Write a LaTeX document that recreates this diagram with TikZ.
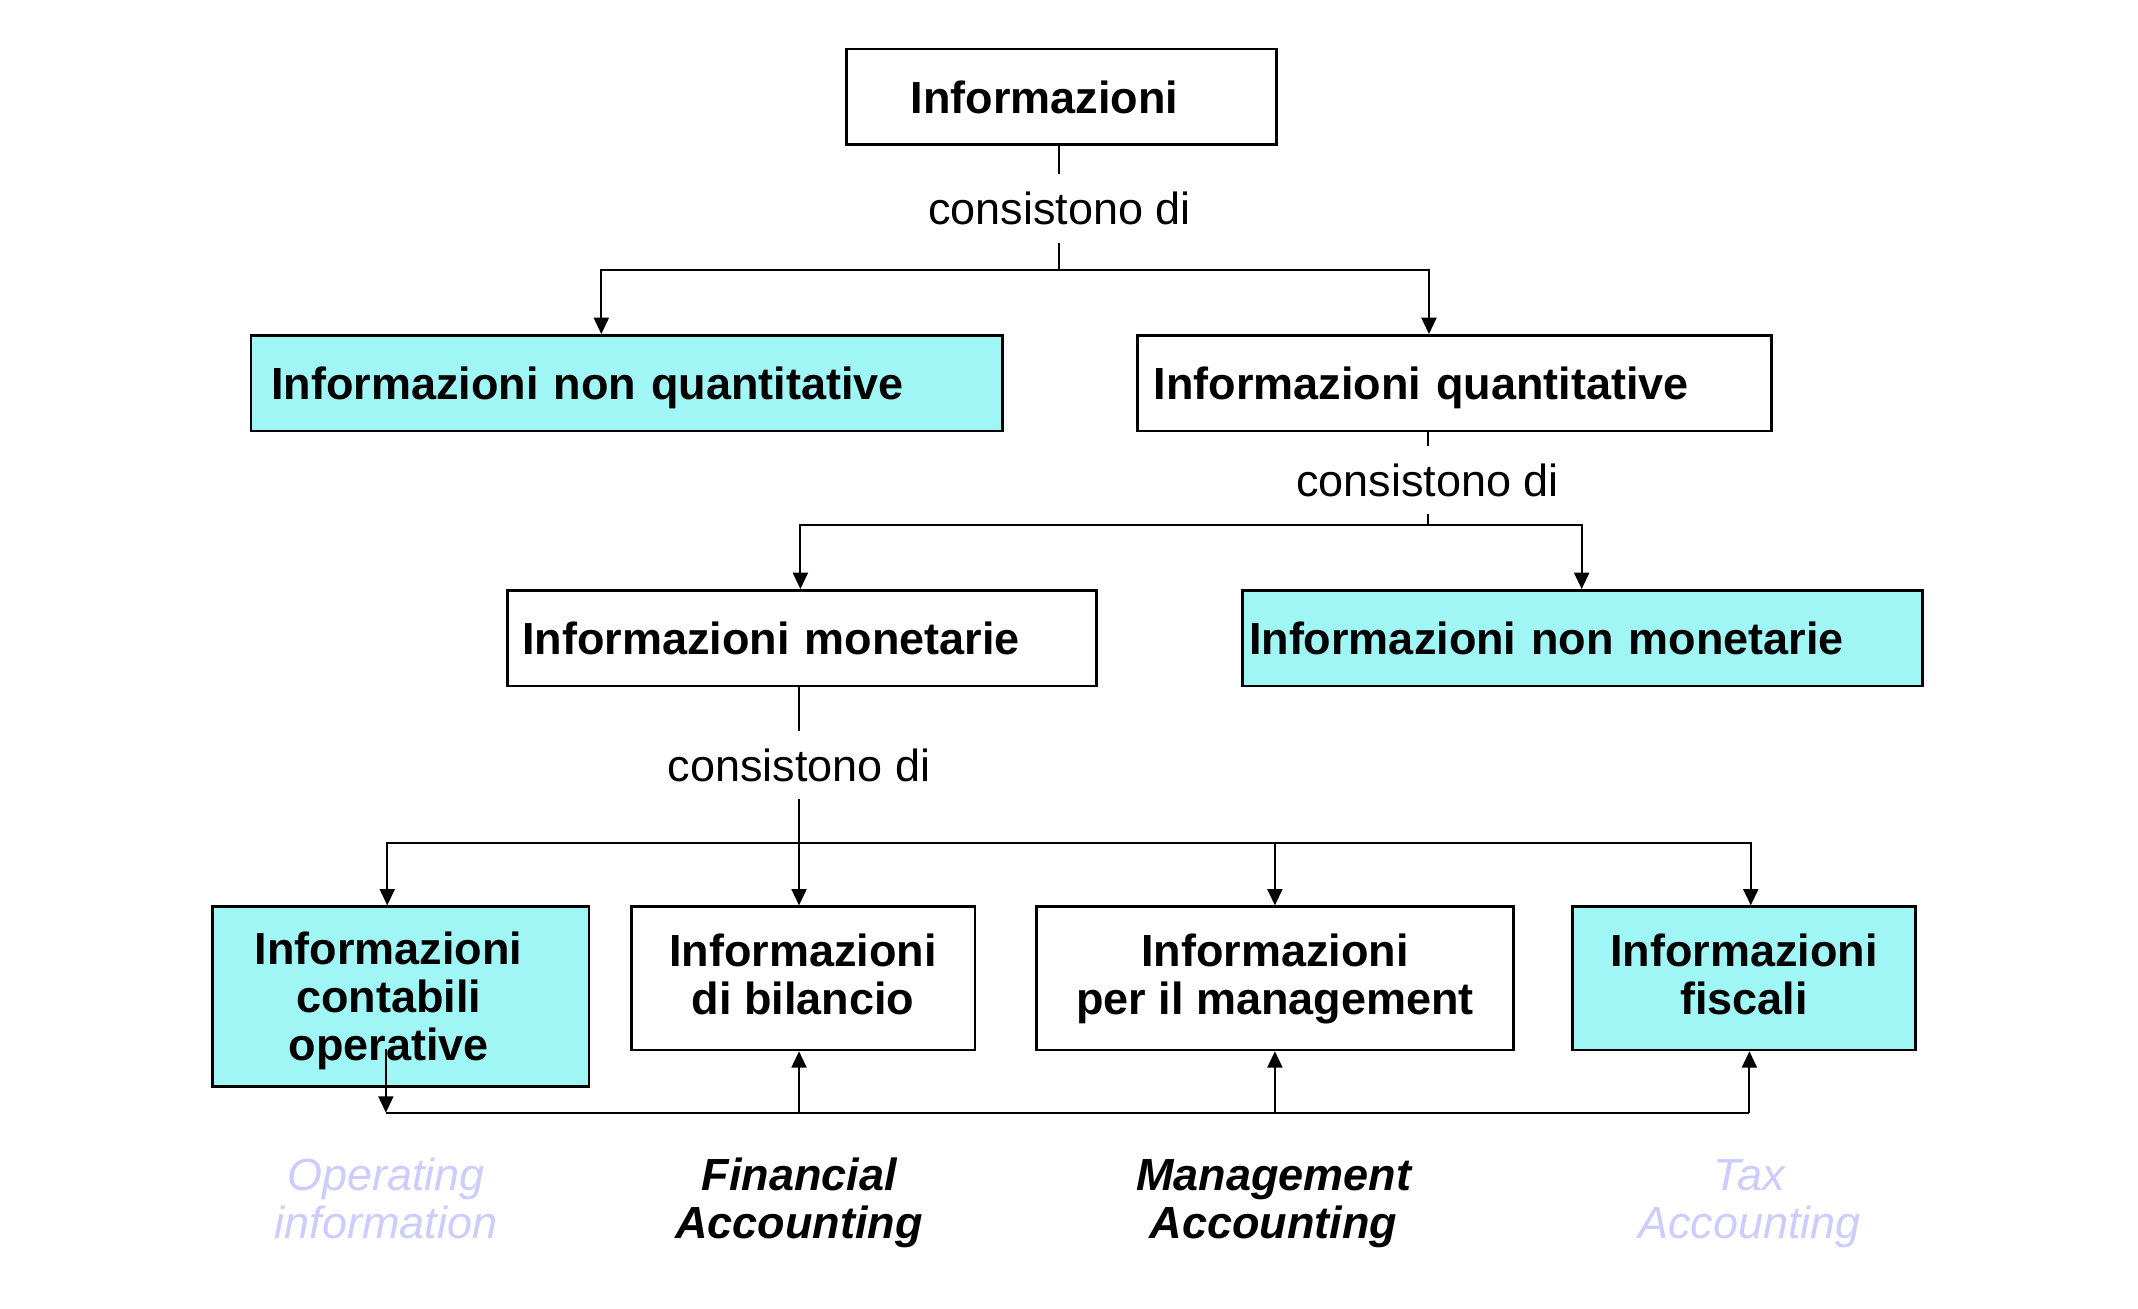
\documentclass[tikz,border=0pt]{standalone}
\usepackage{fontspec}
\setmainfont{Liberation Sans}
\usetikzlibrary{arrows.meta}
\definecolor{boxcyan}{RGB}{160,245,245}
\definecolor{lav}{RGB}{204,204,255}
\begin{document}
\begin{tikzpicture}[x=1pt,y=-1pt,
  basefont/.style={font=\fontsize{33}{35}\selectfont},
  box/.style={draw=black, line width=2pt, inner ysep=0pt, minimum height=70pt,
    anchor=north west, font=\fontsize{33}{35.5}\selectfont\bfseries,
    text height=24pt, text depth=0pt},
  cyanbox/.style={box, fill=boxcyan},
  link/.style={line width=1.5pt},
  arr/.style={link, -{Triangle[length=12pt,width=11pt]}},
  conn/.style={basefont, inner xsep=0pt, inner ysep=13pt, text height=24pt, text depth=0pt},
  lab/.style={align=center, inner sep=0pt, text height=59pt, text depth=0pt},
  strong/.style={lab, font=\fontsize{33}{35}\selectfont\bfseries\itshape, text=black},
  faint/.style={lab, font=\fontsize{33}{35}\selectfont\itshape, text=lav}]
\useasboundingbox (0,0) rectangle (1568,959.4);

% level 0
\node[box, minimum width=315pt, text width=221pt, inner xsep=47pt, align=left] (A) at (620,35) {Informazioni};
\node[conn] (c1) at (777,153) {consistono di};
\coordinate (j1) at (777,198);

% level 1
\node[cyanbox, minimum width=551pt, text width=521pt, inner xsep=15pt, align=left] (B) at (183,245) {Informazioni non quantitative};
\node[box, minimum width=465pt, text width=441pt, inner xsep=12pt, align=left] (C) at (833,245) {Informazioni quantitative};
\node[conn] (c2) at (1047,352) {consistono di};
\coordinate (j2) at (1047,385);

% level 2
\node[box, minimum width=432pt, text width=410pt, inner xsep=11pt, align=left] (D) at (371,432) {Informazioni monetarie};
\node[cyanbox, minimum width=499pt, text width=489pt, inner xsep=5pt, align=left] (E) at (910,432) {Informazioni non monetarie};
\node[conn] (c3) at (586,561) {consistono di};
\coordinate (j3) at (586,618);

% level 3
\node[cyanbox, minimum width=276pt, minimum height=132pt, align=center, text height=94pt] (F) at (155,664) {Informazioni\kern18pt\\contabili\kern18pt\\operative\kern18pt};
\node[box, minimum width=252pt, minimum height=105pt, align=center, text height=53pt] (G) at (462,664) {Informazioni\\di bilancio};
\node[box, minimum width=350pt, minimum height=105pt, align=center, text height=53pt] (H) at (759,664) {Informazioni\\per il management};
\node[cyanbox, minimum width=252pt, minimum height=105pt, align=center, text height=53pt] (I) at (1152,664) {Informazioni\\fiscali};

% bottom bus
\coordinate (fin) at (283,769);
\coordinate (k1) at (283,816);
\coordinate (k4) at (1283,816);

% labels
\node[faint] (L1) at (283,878.5) {Operating\\information};
\node[strong] (L2) at (586,878.5) {Financial\\Accounting};
\node[strong] (L3) at (934,878.5) {Management\\Accounting};
\node[faint] (L4) at (1283,878.5) {Tax\\Accounting};

% connectors
\draw[link] (c1 |- A.south) -- (c1);
\draw[link] (c1) -- (j1);
\draw[arr] (j1) -| ([xshift=-18.5pt]B.north);
\draw[arr] (j1) -| ([xshift=-18.5pt]C.north);

\draw[link] (c2 |- C.south) -- (c2);
\draw[link] (c2) -- (j2);
\draw[arr] (j2) -| ([xshift=-1pt]D.north);
\draw[arr] (j2) -| ([xshift=-0.5pt]E.north);

\draw[link] (c3 |- D.south) -- (c3);
\draw[arr] (c3) -- (c3 |- G.north);
\draw[arr] (j3) -| ([xshift=-10pt]F.north);
\draw[arr] (j3) -| (H.north);
\draw[arr] (j3) -| ([xshift=5pt]I.north);

\draw[link] (k1) -- (k4);
\draw[arr] (fin) -- (k1);
\draw[arr] (k1 -| c3) -- (c3 |- G.south);
\draw[arr] (k1 -| H.south) -- (H.south);
\draw[arr] (k4) -- (k4 |- I.south);
\end{tikzpicture}
\end{document}
